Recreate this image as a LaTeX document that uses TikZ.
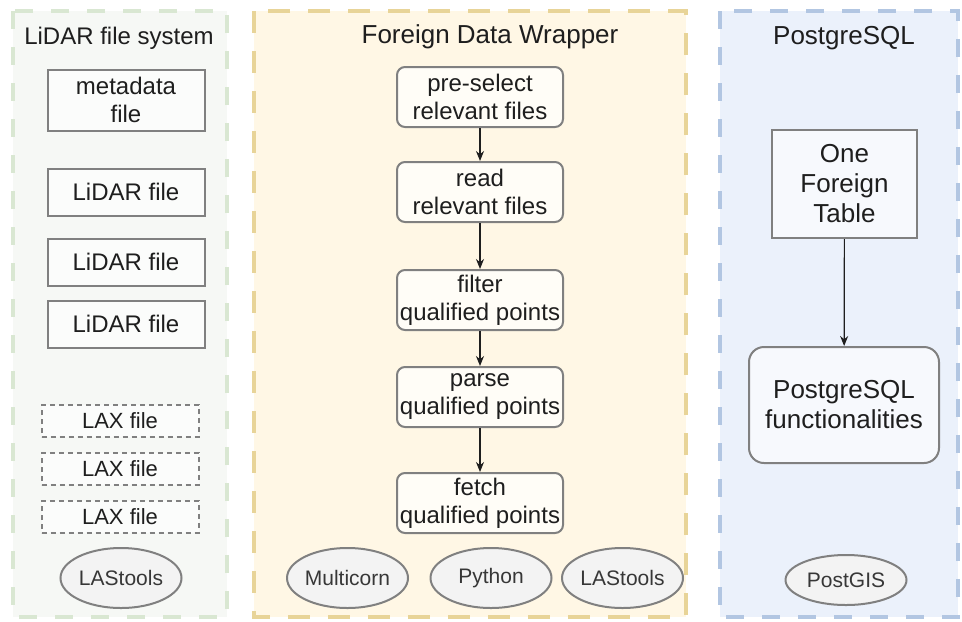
\documentclass[tikz,border=0pt]{standalone}
\usepackage{fontspec}
\setmainfont{Liberation Sans}
\usetikzlibrary{shapes.geometric,arrows.meta}

\definecolor{lidarfill}{RGB}{246,248,245}
\definecolor{lidarline}{RGB}{217,231,210}
\definecolor{fdwfill}{RGB}{255,247,229}
\definecolor{fdwline}{RGB}{232,212,152}
\definecolor{pgfill}{RGB}{235,241,251}
\definecolor{pgline}{RGB}{178,198,226}
\definecolor{boxgray}{RGB}{128,128,128}
\definecolor{toolfill}{RGB}{243,243,243}
\definecolor{inkdark}{RGB}{30,30,30}
\definecolor{inkgray}{RGB}{55,55,55}

\tikzset{
  panel/.style={line width=2.3pt, dash pattern=on 9pt off 9pt},
  title/.style={anchor=base, text=inkdark, font=\fontsize{13}{15}\selectfont},
  filebox/.style={draw=boxgray, line width=1pt, fill=white!60!lidarfill, inner sep=0pt,
    minimum width=78.5pt, minimum height=23.5pt, align=center, text=inkdark,
    font=\fontsize{12}{14}\selectfont},
  laxbox/.style={filebox, dash pattern=on 2.5pt off 2pt, minimum height=16pt,
    font=\fontsize{11}{13}\selectfont},
  stepbox/.style={draw=boxgray, line width=1pt, fill=white!70!fdwfill, rounded corners=4pt,
    inner sep=0pt, minimum width=83pt, minimum height=30pt, align=center, text=inkdark,
    font=\fontsize{12}{14}\selectfont},
  pgbox/.style={draw=boxgray, line width=1pt, fill=white!60!pgfill, inner sep=0pt,
    align=center, text=inkdark, font=\fontsize{13}{15}\selectfont},
  tool/.style={ellipse, draw=boxgray, line width=1pt, fill=toolfill, inner sep=0pt,
    minimum width=60.5pt, minimum height=30pt, text=inkgray,
    font=\fontsize{10.5}{12}\selectfont},
  flow/.style={draw=inkdark, line width=0.6pt, -{Stealth[length=5pt,width=4pt]}},
}

\begin{document}
\begin{tikzpicture}[x=0.5pt, y=-0.5pt]
  \useasboundingbox (0,0) rectangle (962,621);

  % three panels
  \draw[panel, draw=lidarline, fill=lidarfill] (13,11) rectangle (227,617);
  \draw[panel, draw=fdwline, fill=fdwfill, dash pattern=on 11pt off 9pt] (254,11) rectangle (686,617);
  \draw[panel, draw=pgline, fill=pgfill] (720,11) rectangle (958,617);

  \node[title, font=\fontsize{12}{14}\selectfont] (lidartitle) at (119,44) {LiDAR file system};
  \node[title] (fdwtitle) at (490,43) {Foreign Data Wrapper};
  \node[title] (pgtitle) at (844,44) {PostgreSQL};

  % file system side
  \node[filebox, minimum height=30.5pt] (meta) at (126,100) {metadata\\file};
  \node[filebox] (lidar1) at (126,192) {LiDAR file};
  \node[filebox] (lidar2) at (126,262) {LiDAR file};
  \node[filebox] (lidar3) at (126,324) {LiDAR file};
  \node[laxbox] (lax1) at (120,421) {LAX file};
  \node[laxbox] (lax2) at (120,469) {LAX file};
  \node[laxbox] (lax3) at (120,517) {LAX file};
  \node[tool] (lastools1) at (121,578) {LAStools};

  % wrapper steps
  \node[stepbox] (preselect) at (480,97) {pre-select\\relevant files};
  \node[stepbox] (read) at (480,192) {read\\relevant files};
  \node[stepbox] (filter) at (480,300) {filter\\qualified points};
  \node[stepbox] (parse) at (480,397) {parse\\qualified points};
  \node[stepbox] (fetch) at (480,503) {fetch\\qualified points};
  \node[tool] (multicorn) at (347.5,578) {Multicorn};
  \node[tool] (python) at (491,578) {Python};
  \node[tool] (lastools2) at (622.5,578) {LAStools};

  \draw[flow] (preselect) -- (read);
  \draw[flow] (read) -- (filter);
  \draw[flow] (filter) -- (parse);
  \draw[flow] (parse) -- (fetch);

  % database side
  \node[pgbox, minimum width=72.5pt, minimum height=54pt] (ftable) at (844.5,184) {One\\Foreign\\Table};
  \node[pgbox, rounded corners=7.5pt, minimum width=95pt, minimum height=58pt] (pgfunc) at (844,405) {PostgreSQL\\functionalities};
  \node[tool, minimum height=25pt] (postgis) at (846,580) {PostGIS};

  \draw[flow] (ftable) -- (pgfunc);
\end{tikzpicture}
\end{document}
